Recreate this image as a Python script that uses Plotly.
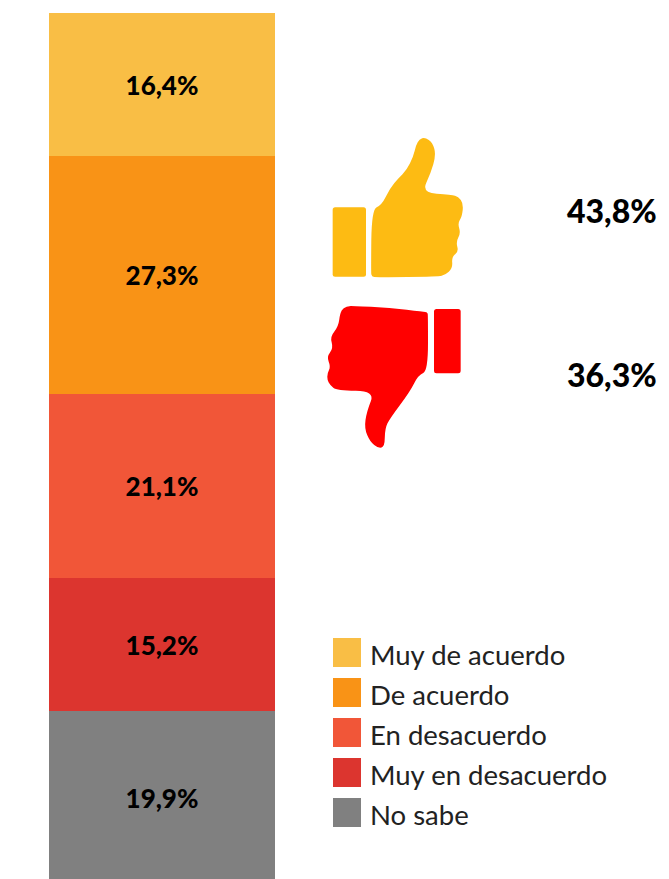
import plotly.graph_objects as go

categories = ["Muy de acuerdo", "De acuerdo", "En desacuerdo", "Muy en desacuerdo", "No sabe"]
values = [16.4, 27.3, 21.1, 15.2, 19.9]
value_labels = ["16,4%", "27,3%", "21,1%", "15,2%", "19,9%"]
summary_labels = ["43,8%", "36,3%"]
colors = ["#F9BE45", "#F99316", "#F15638", "#DC352F", "#808080"]

W, H = 669, 879
BODY = "Lato"
BOLD = "Lato"

# Decorative icon outlines, in zoomed page pixels (3x)
UP_HAND = [(185,268),(215,255),(240,205),(265,175),(290,150),(310,110),(318,75),(328,58),(345,52),(368,68),(378,105),(362,160),(335,218),(425,224),(445,230),(460,250),(456,290),(443,310),(452,340),(438,365),(446,395),(425,410),(428,445),(405,465),(385,470),(200,472),(185,470),(183,455)]
DOWN_HAND = [(120,33),(125,33),(240,38),(340,50),(352,52),(354,60),(354,228),(325,240),(300,290),(240,370),(225,400),(224,455),(205,460),(180,440),(163,400),(170,350),(195,288),(80,287),(60,270),(52,255),(52,235),(62,215),(50,185),(70,160),(60,125),(85,95),(90,55),(100,38)]
UP_BLOCK = [(68,262),(168,262),(168,470),(68,470)]
DOWN_BLOCK = [(372,42),(452,42),(452,235),(372,235)]

def smooth_path(pts, ox, oy):
    P = [(ox + x / 3, oy + y / 3) for x, y in pts]
    n = len(P)
    mid = lambda a, b: ((a[0] + b[0]) / 2, (a[1] + b[1]) / 2)
    s = mid(P[-1], P[0])
    d = f"M {s[0]:.1f},{s[1]:.1f}"
    for i in range(n):
        m = mid(P[i], P[(i + 1) % n])
        d += f" Q {P[i][0]:.1f},{P[i][1]:.1f} {m[0]:.1f},{m[1]:.1f}"
    return d + " Z"

def block_path(pts, ox, oy, r=2.5):
    (x0, y0), (x1, _), (_, y1), _ = [(ox + x / 3, oy + y / 3) for x, y in pts]
    return (f"M {x0+r},{y0} L {x1-r},{y0} Q {x1},{y0} {x1},{y0+r} L {x1},{y1-r} Q {x1},{y1} {x1-r},{y1} "
            f"L {x0+r},{y1} Q {x0},{y1} {x0},{y1-r} L {x0},{y0+r} Q {x0},{y0} {x0+r},{y0} Z")

fig = go.Figure()
for c, v, lab, col in reversed(list(zip(categories, values, value_labels, colors))):
    fig.add_trace(go.Bar(
        x=[162], y=[v], width=[226], name=c, marker=dict(color=col, line=dict(width=0)),
        text=[lab], textposition="inside", insidetextanchor="middle", textangle=0,
        textfont=dict(family=BOLD, size=26, color="#000000", weight=900),
        showlegend=False, yaxis="y", xaxis="x", cliponaxis=True,
    ))

def icon(path, col):
    return dict(type="path", xref="x", yref="y2", path=path, fillcolor=col, line_width=0, layer="above")

shapes = [
    icon(block_path(UP_BLOCK, 310, 120), "#FDBB13"),
    icon(smooth_path(UP_HAND, 310, 120), "#FDBB13"),
    icon(block_path(DOWN_BLOCK, 310, 295), "#FF0000"),
    icon(smooth_path(DOWN_HAND, 310, 295), "#FF0000"),
]
annotations = []
for i, (c, col) in enumerate(zip(categories, colors)):
    top = 638 + i * 40
    shapes.append(dict(type="rect", xref="x", yref="y2", x0=333, x1=361, y0=top, y1=top + 29,
                       fillcolor=col, line_width=0))
    annotations.append(dict(xref="x", yref="y2", x=368, y=top + 16, text=c, showarrow=False,
                            xanchor="left", yanchor="middle",
                            font=dict(family=BODY, size=27.5, color="#222222")))
for lab, yy in zip(summary_labels, [210, 374]):
    annotations.append(dict(xref="x", yref="y2", x=659, y=yy, text=lab, showarrow=False,
                            xanchor="right", yanchor="middle",
                            font=dict(family=BOLD, size=32, color="#000000", weight=900)))

fig.add_trace(go.Scatter(x=[0], y=[0], yaxis="y2", xaxis="x", mode="markers",
                         marker=dict(opacity=0), showlegend=False, hoverinfo="skip"))

# The reference's bar runs past the bottom of the page, so the axis starts above zero
px_per_unit = 8.72
bottom_overflow = 5.5
y_low = bottom_overflow / px_per_unit
fig.update_layout(
    width=W, height=H, autosize=False, barmode="stack", bargap=0,
    margin=dict(l=0, r=0, t=0, b=0), paper_bgcolor="white", plot_bgcolor="white",
    xaxis=dict(range=[0, W], visible=False, fixedrange=True),
    yaxis=dict(range=[y_low, y_low + H / px_per_unit], visible=False, fixedrange=True),
    yaxis2=dict(range=[H, 0], visible=False, overlaying="y", fixedrange=True),
    shapes=shapes, annotations=annotations,
)
fig.write_html("out.html", config={"displayModeBar": False},
               post_script="document.body.style.margin='0';document.documentElement.style.overflow='hidden';")
